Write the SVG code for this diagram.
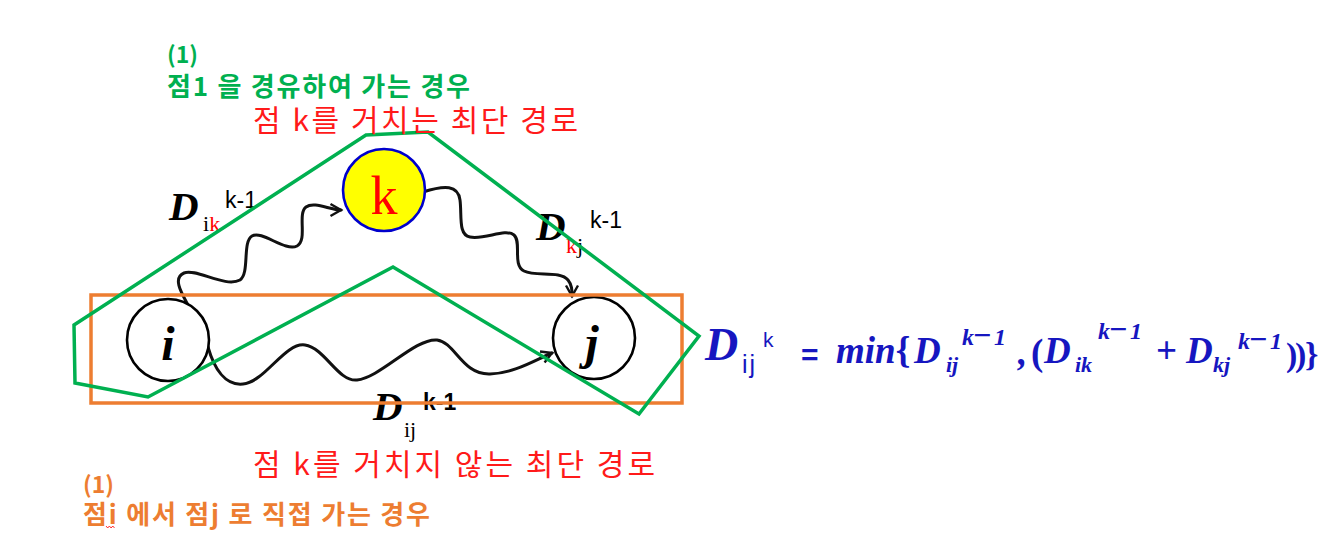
<svg xmlns="http://www.w3.org/2000/svg" width="1325" height="556" viewBox="0 0 1325 556">
<defs>
<style>
.kr{font-family:"Noto Sans CJK KR","Noto Sans",sans-serif}
.grn{fill:#00b050;font-weight:bold}
.org{fill:#ed7d31;font-weight:bold}
.red{fill:#ff1a1a}
.dl{font-family:"Liberation Serif",serif;font-weight:bold;font-style:italic;font-size:41px;fill:#000}
.sub{font-family:"Liberation Serif",serif;font-size:22px;fill:#000}
.sup{font-family:"Liberation Sans",sans-serif;font-size:23px;fill:#000}
.node{fill:#fff;stroke:#000;stroke-width:2.6}
.nl{font-family:"Liberation Serif",serif;font-weight:bold;font-style:italic;font-size:48px;fill:#000;text-anchor:middle}
.wave{fill:none;stroke:#111;stroke-width:3;stroke-linecap:round;marker-end:url(#arr)}
.fm{font-family:"Liberation Serif",serif;font-weight:bold;font-style:italic;fill:#1616c0}
.up{font-style:normal}
.fm36{font-size:37px}
.fm22{font-size:22px}
.fm24{font-size:24px}
.mn{font-size:32px;font-style:normal}
</style>
<marker id="arr" markerWidth="16" markerHeight="16" refX="12" refY="8" orient="auto" markerUnits="userSpaceOnUse" overflow="visible">
<path d="M1.5,2 L12,8 L1.5,14" fill="none" stroke="#111" stroke-width="2.4" stroke-linejoin="miter"/>
</marker>
</defs>

<rect width="1325" height="556" fill="#fff"/>

<g id="connectors">
<path class="wave" d="M188,305 C182,294 172,278 184,273 C196,268 225,288 240,280 C250,273 242,242 252,236 C262,230 285,252 297,246 C308,240 297,214 306,207 C314,201 330,210 341,210"/>
<path class="wave" d="M423,192 C445,185 458,185 460,200 C462,215 458,235 470,237 C485,240 505,228 514,235 C522,242 512,265 524,271 C536,277 560,270 568,280 C572,285 572,290 572,296"/>
<path class="wave" d="M208,347 C214,368 225,386 243,384 C265,382 285,342 305,345 C325,348 338,382 357,380 C380,378 415,338 437,340 C455,342 462,375 490,374 C515,373 535,360 552,353"/>
</g>

<g id="node-i">
<circle class="node" cx="168" cy="340" r="41"/>
<text class="nl" x="168" y="360">i</text>
</g>
<g id="node-j">
<circle class="node" cx="594" cy="338" r="41"/>
<text class="nl" x="592" y="359">j</text>
</g>
<g id="node-k">
<circle cx="384" cy="190" r="41" fill="#ffff00" stroke="#0000cc" stroke-width="2.6"/>
<text x="384" y="214" font-family="Liberation Serif, serif" font-size="54" fill="#ff0000" text-anchor="middle">k</text>
</g>

<g id="edge-labels">
<text class="dl" x="169" y="220">D</text>
<text class="sub" x="203" y="231">i<tspan fill="#ff0000">k</tspan></text>
<text class="sup" x="225" y="208">k-1</text>

<text class="dl" x="536" y="240">D</text>
<text class="sub" x="566" y="253"><tspan fill="#ff0000">k</tspan>j</text>
<text class="sup" x="590" y="228">k-1</text>

<text class="dl" x="373" y="420">D</text>
<text class="sub" x="404" y="437" font-size="24">ij</text>
<text class="sup" x="423" y="410" font-weight="bold" font-size="22">k-1</text>
</g>

<g id="highlights">
<rect x="91" y="295" width="591" height="108" fill="none" stroke="#ed7d31" stroke-width="3.5"/>
<polygon points="366,135 428,132 699,336 639,414 393,267 148,397 75,383 74,325" fill="none" stroke="#00b050" stroke-width="3.5" stroke-linejoin="miter"/>
</g>

<g id="annotations">
<text class="kr grn" x="167" y="63" font-size="23">(1)</text>
<text class="kr grn" x="167" y="96" font-size="26" textLength="303" lengthAdjust="spacing">점1 을 경유하여 가는 경우</text>
<text class="kr red" x="253" y="131" font-size="30" textLength="325" lengthAdjust="spacing">점 k를 거치는 최단 경로</text>
<text class="kr red" x="253" y="475" font-size="30" textLength="402" lengthAdjust="spacing">점 k를 거치지 않는 최단 경로</text>
<text class="kr org" x="83" y="493" font-size="23">(1)</text>
<text class="kr org" x="83" y="524" font-size="26" textLength="347" lengthAdjust="spacing">점i 에서 점j 로 직접 가는 경우</text>
<path d="M106,526 l1.7,2 l1.7,-2 l1.7,2 l1.7,-2 l1.7,2" fill="none" stroke="#ff0000" stroke-width="0.8"/>
</g>

<g id="formula">
<text class="fm" x="705" y="360" font-size="46">D</text>
<text x="742" y="373" font-family="Liberation Sans, sans-serif" font-size="25" fill="#1616c0" letter-spacing="2">ij</text>
<text x="763" y="347" font-family="Liberation Sans, sans-serif" font-size="21" fill="#1616c0">k</text>
<text x="801" y="365" font-family="Liberation Sans, sans-serif" font-weight="bold" font-size="30" fill="#1616c0">=</text>
<text class="fm fm36" x="836" y="363">min<tspan class="up">{</tspan></text>
<text class="fm fm36" x="914" y="363">D</text>
<text class="fm fm22" x="946" y="372">ij</text>
<text class="fm fm24" y="345"><tspan x="962">k</tspan><tspan class="mn" x="973" dy="1">−</tspan><tspan x="994" dy="-1">1</tspan></text>
<text class="fm fm36" x="1018" y="365">,</text>
<text class="fm fm36 up" x="1031" y="365">(</text>
<text class="fm fm36" x="1044" y="363">D</text>
<text class="fm fm22" x="1075" y="372">ik</text>
<text class="fm fm24" y="339"><tspan x="1098">k</tspan><tspan class="mn" x="1109" dy="1">−</tspan><tspan x="1130" dy="-1">1</tspan></text>
<text x="1156" y="363" font-family="Liberation Serif, serif" font-weight="bold" font-size="37" fill="#1616c0">+</text>
<text class="fm fm36" x="1186" y="363">D</text>
<text class="fm fm22" x="1213" y="372">kj</text>
<text class="fm fm24" y="349"><tspan x="1238">k</tspan><tspan class="mn" x="1249" dy="1">−</tspan><tspan x="1270" dy="-1">1</tspan></text>
<text class="fm up" y="366" font-size="34"><tspan x="1286">)</tspan><tspan x="1295">)</tspan><tspan x="1305">}</tspan></text>
</g>
</svg>
